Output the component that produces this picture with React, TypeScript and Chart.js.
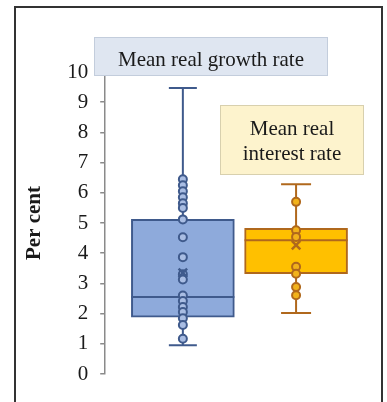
import React, { useEffect, useRef } from "react";
import { Chart, registerables } from "chart.js";

Chart.register(...registerables);

const categories = ["Mean real growth rate", "Mean real interest rate"];
const boxMin = [0.95, 2.02];
const boxQ1 = [1.88, 3.32];
const boxMedian = [2.55, 4.43];
const boxQ3 = [5.12, 4.82];
const boxMax = [9.47, 6.28];
const boxMean = [3.35, 4.27];
const growthPoints = [6.45, 6.25, 6.05, 5.85, 5.65, 5.5, 5.12, 4.53, 3.87, 3.3, 3.13, 2.6, 2.42, 2.22, 2.05, 1.85, 1.62, 1.17];
const interestPoints = [5.7, 4.76, 4.54, 3.55, 3.32, 2.88, 2.61];
const yTicks = [0, 1, 2, 3, 4, 5, 6, 7, 8, 9, 10];

const FONT = "'Liberation Serif', 'DejaVu Serif', serif";
const BLUE_FILL = "#8eaadb";
const BLUE_EDGE = "#3f5a8c";
const ORANGE_FILL = "#ffc000";
const ORANGE_EDGE = "#b0681c";

export default function App() {
  const ref = useRef<HTMLCanvasElement>(null);

  useEffect(() => {
    const canvas = ref.current;
    if (!canvas) return;

    const medianPlugin = {
      id: "medianPlugin",
      afterDatasetDraw(chart: any, args: any) {
        if (args.meta.type !== "bar") return;
        const ctx = chart.ctx;
        const y = chart.scales.y;
        args.meta.data.forEach((el: any, i: number) => {
          const half = el.width / 2;
          const py = y.getPixelForValue(boxMedian[i]);
          ctx.save();
          ctx.strokeStyle = i === 0 ? BLUE_EDGE : ORANGE_EDGE;
          ctx.lineWidth = 2;
          ctx.beginPath();
          ctx.moveTo(el.x - half, py);
          ctx.lineTo(el.x + half, py);
          ctx.stroke();
          ctx.restore();
        });
      },
    };

    const labelPlugin = {
      id: "labelPlugin",
      afterDraw(chart: any) {
        const ctx = chart.ctx;
        ctx.save();
        // growth label
        ctx.fillStyle = "#dfe6f1";
        ctx.strokeStyle = "#c3cddc";
        ctx.lineWidth = 1;
        ctx.fillRect(94, 37, 234, 39);
        ctx.strokeRect(94.5, 37.5, 233, 38);
        ctx.fillStyle = "#1a1a1a";
        ctx.font = `21px ${FONT}`;
        ctx.textAlign = "center";
        ctx.textBaseline = "alphabetic";
        ctx.fillText(categories[0], 211, 66);
        // interest label
        ctx.fillStyle = "#fdf3cd";
        ctx.strokeStyle = "#d8d0ae";
        ctx.fillRect(220, 105, 144, 70);
        ctx.strokeRect(220.5, 105.5, 143, 69);
        ctx.fillStyle = "#1a1a1a";
        ctx.fillText("Mean real", 292, 135);
        ctx.fillText("interest rate", 292, 160);
        ctx.restore();
      },
    };

    const chart = new Chart(canvas, {
      type: "bar",
      data: {
        datasets: [
          {
            type: "line",
            label: "growth whisker",
            data: [
              { x: 1, y: boxMin[0] },
              { x: 1, y: boxMax[0] },
            ],
            borderColor: BLUE_EDGE,
            borderWidth: 2,
            pointStyle: "line",
            pointRadius: 14,
            pointBorderWidth: 2,
            pointBorderColor: BLUE_EDGE,
            order: 3,
          } as any,
          {
            type: "line",
            label: "interest whisker",
            data: [
              { x: 2, y: boxMin[1] },
              { x: 2, y: boxMax[1] },
            ],
            borderColor: ORANGE_EDGE,
            borderWidth: 2,
            pointStyle: "line",
            pointRadius: 15,
            pointBorderWidth: 2,
            pointBorderColor: ORANGE_EDGE,
            order: 3,
          } as any,
          {
            type: "bar",
            label: "boxes",
            data: [
              { x: 1, y: [boxQ1[0], boxQ3[0]] },
              { x: 2, y: [boxQ1[1], boxQ3[1]] },
            ] as any,
            backgroundColor: [BLUE_FILL, ORANGE_FILL],
            borderColor: [BLUE_EDGE, ORANGE_EDGE],
            borderWidth: 2,
            borderSkipped: false,
            barThickness: 103,
            order: 2,
          } as any,
          {
            type: "line",
            label: "growth points",
            data: growthPoints.map((v) => ({ x: 1, y: v })),
            showLine: false,
            pointStyle: "circle",
            pointRadius: 4,
            pointBorderWidth: 2,
            pointBackgroundColor: "#a9bde3",
            pointBorderColor: BLUE_EDGE,
            order: 1,
          } as any,
          {
            type: "line",
            label: "interest points",
            data: interestPoints.map((v) => ({ x: 2, y: v })),
            showLine: false,
            pointStyle: "circle",
            pointRadius: 4,
            pointBorderWidth: 2,
            pointBackgroundColor: "#f2b21a",
            pointBorderColor: ORANGE_EDGE,
            order: 1,
          } as any,
          {
            type: "line",
            label: "means",
            data: [
              { x: 1, y: boxMean[0] },
              { x: 2, y: boxMean[1] },
            ],
            showLine: false,
            pointStyle: "crossRot",
            pointRadius: 6,
            pointBorderWidth: 2.5,
            pointBorderColor: [BLUE_EDGE, ORANGE_EDGE],
            order: 0,
          } as any,
        ],
      },
      options: {
        animation: false,
        responsive: false,
        maintainAspectRatio: false,
        devicePixelRatio: 1,
        layout: { padding: { left: 22, right: 23, top: 72, bottom: 28 } },
        plugins: {
          legend: { display: false },
          tooltip: { enabled: false },
          title: { display: false },
        },
        scales: {
          x: {
            type: "linear",
            display: false,
            offset: false,
            grid: { offset: false },
            min: 0.314,
            max: 2.6,
          },
          y: {
            type: "linear",
            min: 0,
            max: 10,
            afterBuildTicks: (axis: any) => {
              axis.ticks = yTicks.map((v) => ({ value: v }));
            },
            ticks: {
              color: "#1a1a1a",
              font: { family: FONT, size: 21 },
              padding: 12,
            },
            grid: {
              drawOnChartArea: false,
              drawTicks: true,
              tickLength: 5,
              color: "#8a8a8a",
              lineWidth: 1.5,
            },
            border: { display: true, color: "#8a8a8a", width: 1.5 },
            title: {
              display: true,
              text: "Per cent",
              color: "#1a1a1a",
              font: { family: FONT, size: 21, weight: "bold" },
              padding: { top: 0, bottom: 8 },
            },
          },
        },
      },
      plugins: [medianPlugin, labelPlugin],
    } as any);

    return () => chart.destroy();
  }, []);

  return (
    <div
      style={{
        position: "fixed",
        left: 0,
        top: 0,
        width: 387,
        height: 402,
        overflow: "hidden",
        background: "#fff",
      }}
    >
      <canvas ref={ref} width={387} height={402} style={{ width: 387, height: 402, display: "block" }} />
      <div
        style={{
          position: "absolute",
          left: 14,
          top: 6,
          width: 369,
          height: 430,
          border: "2px solid #333",
          boxSizing: "border-box",
          pointerEvents: "none",
        }}
      />
    </div>
  );
}
